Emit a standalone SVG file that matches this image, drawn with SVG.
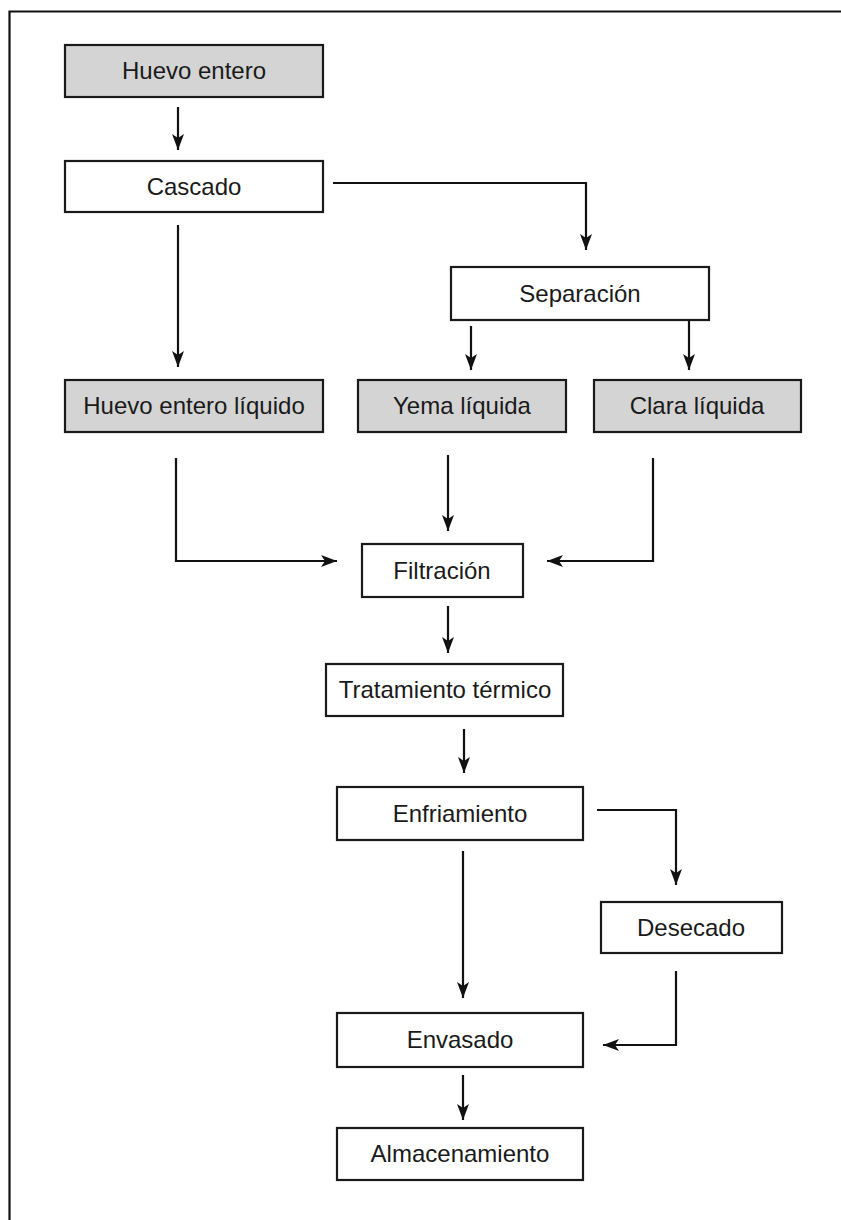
<svg xmlns="http://www.w3.org/2000/svg" width="841" height="1220" viewBox="0 0 841 1220">
<style>
.box{fill:#ffffff;stroke:#1a1a1a;stroke-width:2.2}
.grey{fill:#d4d4d4}
.lbl{font-family:"Liberation Sans",Arial,sans-serif;font-size:24px;fill:#1a1a1a;text-anchor:middle}
.con{fill:none;stroke:#111;stroke-width:2.2;marker-end:url(#ah)}
</style>
<defs>
<marker id="ah" markerUnits="userSpaceOnUse" markerWidth="18" markerHeight="14" viewBox="0 0 18 14" refX="16" refY="7" orient="auto">
<path d="M0,1 L16,7 L0,13 L4,7 z" fill="#111"/>
</marker>
</defs>
<rect width="841" height="1220" fill="#ffffff"/>
<path d="M9.5,1222 V11.5 H843" fill="none" stroke="#111" stroke-width="2.2"/>

<g id="n-huevo-entero"><rect class="box grey" x="65" y="45" width="258" height="52"/><text class="lbl" x="194" y="79">Huevo entero</text></g>
<g id="n-cascado"><rect class="box" x="65" y="161" width="258" height="51"/><text class="lbl" x="194" y="195">Cascado</text></g>
<g id="n-separacion"><rect class="box" x="451" y="267" width="258" height="53"/><text class="lbl" x="580" y="302">Separación</text></g>
<g id="n-huevo-liquido"><rect class="box grey" x="65" y="380" width="258" height="52"/><text class="lbl" x="194" y="414">Huevo entero líquido</text></g>
<g id="n-yema"><rect class="box grey" x="358" y="380" width="208" height="52"/><text class="lbl" x="462" y="414">Yema líquida</text></g>
<g id="n-clara"><rect class="box grey" x="594" y="380" width="207" height="52"/><text class="lbl" x="697" y="414">Clara líquida</text></g>
<g id="n-filtracion"><rect class="box" x="362" y="544" width="161" height="53"/><text class="lbl" x="442" y="579">Filtración</text></g>
<g id="n-tratamiento"><rect class="box" x="326" y="664" width="237" height="52"/><text class="lbl" x="445" y="698">Tratamiento térmico</text></g>
<g id="n-enfriamiento"><rect class="box" x="337" y="787" width="246" height="53"/><text class="lbl" x="460" y="822">Enfriamiento</text></g>
<g id="n-desecado"><rect class="box" x="601" y="902" width="181" height="51"/><text class="lbl" x="691" y="936">Desecado</text></g>
<g id="n-envasado"><rect class="box" x="337" y="1013" width="246" height="54"/><text class="lbl" x="460" y="1048">Envasado</text></g>
<g id="n-almacenamiento"><rect class="box" x="337" y="1128" width="246" height="52"/><text class="lbl" x="460" y="1162">Almacenamiento</text></g>

<g id="connectors">
<path class="con" d="M178,107 V150"/>
<path class="con" d="M178,225 V367"/>
<path class="con" d="M333,183 H586 V250"/>
<path class="con" d="M471,326 V370"/>
<path class="con" d="M689,320 V370"/>
<path class="con" d="M176,458 V561 H337"/>
<path class="con" d="M448,455 V531"/>
<path class="con" d="M653,458 V561 H547"/>
<path class="con" d="M448,606 V653"/>
<path class="con" d="M464,729 V773"/>
<path class="con" d="M597,810 H676 V885"/>
<path class="con" d="M463,851 V998"/>
<path class="con" d="M676,971 V1045 H603"/>
<path class="con" d="M463,1075 V1120"/>
</g>
</svg>
